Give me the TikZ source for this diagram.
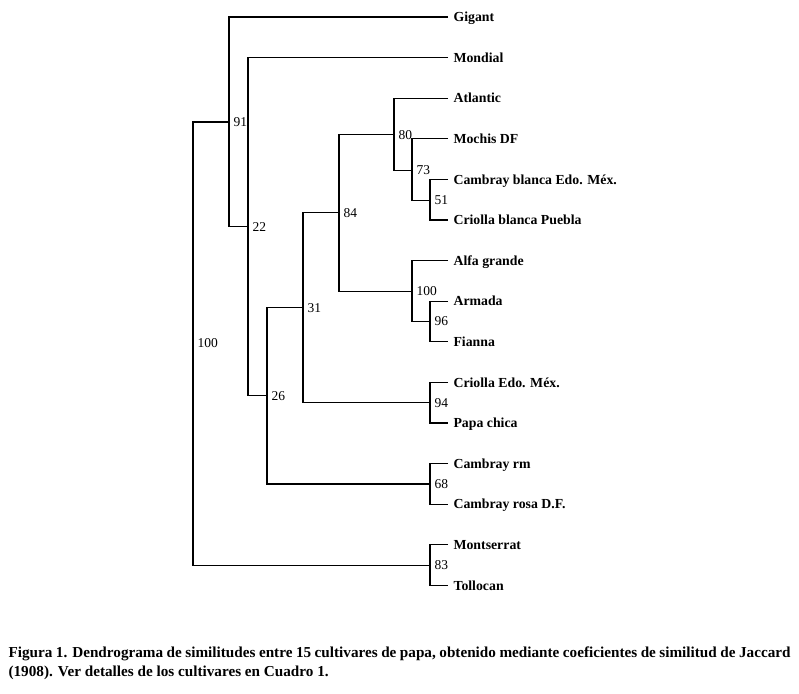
\documentclass[tikz,border=0pt]{standalone}
\usepackage{fontspec}
\setmainfont{Liberation Serif}
\usetikzlibrary{positioning,calc}

\begin{document}
\begin{tikzpicture}[x=1pt,y=-1pt,
            line width=1.1pt,
            leaf/.style={anchor=west, inner sep=5pt,
                font=\fontsize{13.8}{15}\selectfont\bfseries,
                text height=9.2pt, text depth=0pt},
            sim/.style={anchor=west, inner sep=4pt,
                font=\fontsize{13.5}{15}\selectfont}]
    \useasboundingbox (0,0) rectangle (799,693);
    \foreach \name/\txt [count=\i] in {gig/Gigant, mon/Mondial, atl/Atlantic,
            moc/Mochis DF, cbe/Cambray blanca Edo. Méx., cbp/Criolla blanca Puebla,
            alf/Alfa grande, arm/Armada, fia/Fianna, cem/Criolla Edo. Méx.,
            pap/Papa chica, crm/Cambray rm, crd/Cambray rosa D.F.,
            mse/Montserrat, tol/Tollocan}
        \node[leaf] (\name) at (448, {17+40.6*(\i-1)}) {\txt};

    \coordinate (n51) at (430,200.3);
    \coordinate (n73) at (412,170.1);
    \coordinate (n80) at (394,134.6);
    \coordinate (n96) at (430,321.5);
    \coordinate (n100a) at (412,291.1);
    \coordinate (n84) at (339,212.8);
    \coordinate (n94) at (430,402.7);
    \coordinate (n31) at (303,307.8);
    \coordinate (n68) at (430,484);
    \coordinate (n26) at (267,395.9);
    \coordinate (n22) at (248,226.9);
    \coordinate (n91) at (229,122);
    \coordinate (n83) at (430,565.1);
    \coordinate (n100) at (193,343.5);

    \draw (cbe.west) -| (n51) |- (cbp.west);
    \draw (moc.west) -| (n73) |- (n51);
    \draw (atl.west) -| (n80) |- (n73);
    \draw (arm.west) -| (n96) |- (fia.west);
    \draw (alf.west) -| (n100a) |- (n96);
    \draw (n80) -| (n84) |- (n100a);
    \draw (cem.west) -| (n94) |- (pap.west);
    \draw (n84) -| (n31) |- (n94);
    \draw (crm.west) -| (n68) |- (crd.west);
    \draw (n31) -| (n26) |- (n68);
    \draw (mon.west) -| (n22) |- (n26);
    \draw (gig.west) -| (n91) |- (n22);
    \draw (mse.west) -| (n83) |- (tol.west);
    \draw (n91) -| (n100) |- (n83);

    \node[sim] (l51) at (n51) {51};
    \node[sim] (l73) at (n73) {73};
    \node[sim] (l80) at (n80) {80};
    \node[sim] (l96) at (n96) {96};
    \node[sim] (l100a) at (n100a) {100};
    \node[sim] (l84) at (n84) {84};
    \node[sim] (l94) at (n94) {94};
    \node[sim] (l31) at (n31) {31};
    \node[sim] (l68) at (n68) {68};
    \node[sim] (l26) at (n26) {26};
    \node[sim] (l22) at (n22) {22};
    \node[sim] (l91) at (n91) {91};
    \node[sim] (l83) at (n83) {83};
    \node[sim] (l100) at (n100) {100};

    \node[anchor=north west, inner sep=0pt, text width=782pt, align=justify,
        font=\fontsize{15.2}{19}\selectfont\bfseries] (caption) at (8,646)
        {Figura 1. Dendrograma de similitudes entre 15 cultivares de papa, obtenido mediante coeficientes de similitud de Jaccard\linebreak (1908). Ver detalles de los cultivares en Cuadro 1.};
\end{tikzpicture}
\end{document}
